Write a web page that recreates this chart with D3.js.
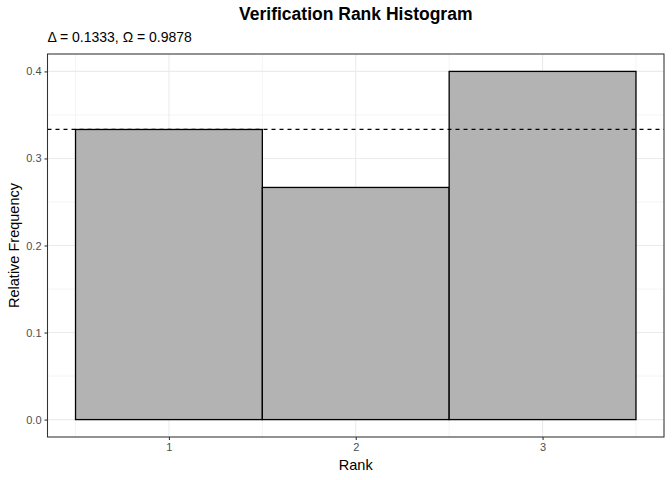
<!DOCTYPE html>
<html><head><meta charset="utf-8">
<script src="https://cdn.jsdelivr.net/npm/d3@7"></script>
<style>body{margin:0;background:#fff;} text{font-family:"Liberation Sans",Arial,Helvetica,sans-serif;}</style>
</head><body>
<svg id="c" width="672" height="480"></svg>
<script>
const ranks = [1, 2, 3];
const relFreq = [0.3333, 0.2667, 0.4];
const expected = 1/3;
const yTicks = [0.0, 0.1, 0.2, 0.3, 0.4];
const yMinor = [0.05, 0.15, 0.25, 0.35];
const xMinor = [0.5, 1.5, 2.5, 3.5];
const title = "Verification Rank Histogram";
const subtitle = "\u0394 = 0.1333, \u03A9 = 0.9878";

const svg = d3.select("#c");
const L = 47.5, R = 664, T = 54, B = 437;
const x = d3.scaleLinear().domain([0.35, 3.65]).range([L, R]);
const y = d3.scaleLinear().domain([-0.02, 0.42]).range([B, T]);

svg.append("rect").attr("x", L).attr("y", T).attr("width", R - L).attr("height", B - T).attr("fill", "#fff");
const g = svg.append("g");
g.selectAll(".ymin").data(yMinor).enter().append("line")
  .attr("x1", L).attr("x2", R).attr("y1", d => y(d)).attr("y2", d => y(d))
  .attr("stroke", "#ebebeb").attr("stroke-width", 0.53);
g.selectAll(".xmin").data(xMinor).enter().append("line")
  .attr("y1", T).attr("y2", B).attr("x1", d => x(d)).attr("x2", d => x(d))
  .attr("stroke", "#ebebeb").attr("stroke-width", 0.53);
g.selectAll(".ymaj").data(yTicks).enter().append("line")
  .attr("x1", L).attr("x2", R).attr("y1", d => y(d)).attr("y2", d => y(d))
  .attr("stroke", "#ebebeb").attr("stroke-width", 1.07);
g.selectAll(".xmaj").data(ranks).enter().append("line")
  .attr("y1", T).attr("y2", B).attr("x1", d => x(d)).attr("x2", d => x(d))
  .attr("stroke", "#ebebeb").attr("stroke-width", 1.07);

g.selectAll(".bar").data(ranks).enter().append("rect")
  .attr("x", d => x(d - 0.5)).attr("width", d => x(d + 0.5) - x(d - 0.5))
  .attr("y", (d, i) => y(relFreq[i])).attr("height", (d, i) => y(0) - y(relFreq[i]))
  .attr("fill", "#b3b3b3").attr("stroke", "#000").attr("stroke-width", 1.3);

g.append("line").attr("x1", L).attr("x2", R).attr("y1", y(expected)).attr("y2", y(expected))
  .attr("stroke", "#000").attr("stroke-width", 1.3).attr("stroke-dasharray", "4,4");

svg.append("rect").attr("x", L).attr("y", T).attr("width", R - L).attr("height", B - T)
  .attr("fill", "none").attr("stroke", "#333").attr("stroke-width", 1.07);

const ya = svg.append("g").attr("transform", `translate(${L},0)`)
  .call(d3.axisLeft(y).tickValues(yTicks).tickFormat(d3.format(".1f")).tickSize(3).tickPadding(3));
const xa = svg.append("g").attr("transform", `translate(0,${B})`)
  .call(d3.axisBottom(x).tickValues(ranks).tickFormat(d3.format("d")).tickSize(3).tickPadding(3));
[ya, xa].forEach(a => {
  a.select(".domain").remove();
  a.selectAll(".tick line").attr("stroke", "#333").attr("stroke-width", 1.07);
  a.selectAll(".tick text").attr("fill", "#4d4d4d").style("font-size", "11px")
   .style("font-family", '"Liberation Sans",Arial,sans-serif');
});

svg.append("text").attr("x", (L + R) / 2).attr("y", 20).attr("text-anchor", "middle")
  .style("font-size", "17.5px").style("font-weight", "bold").text(title);
svg.append("text").attr("x", L).attr("y", 42).style("font-size", "14px").text(subtitle);
svg.append("text").attr("x", (L + R) / 2).attr("y", 470).attr("text-anchor", "middle")
  .style("font-size", "14.5px").text("Rank");
svg.append("text").attr("transform", `translate(18.5,${(T + B) / 2}) rotate(-90)`).attr("text-anchor", "middle")
  .style("font-size", "14.5px").text("Relative Frequency");
</script>
</body></html>
